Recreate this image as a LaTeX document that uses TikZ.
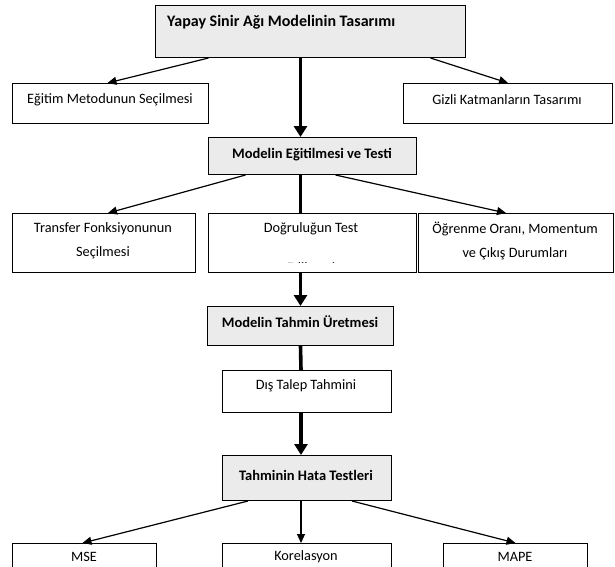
\documentclass[tikz,border=0pt]{standalone}
\usepackage{fontspec}
\setmainfont{Carlito}
\usetikzlibrary{arrows.meta}
\begin{document}
\begin{tikzpicture}[x=1pt,y=-1pt,
  box/.style={draw=black, line width=1pt, fill=white, inner sep=0pt, anchor=north west},
  gbox/.style={box, fill=gray!16},
  txt/.style={inner sep=0pt, align=center, font=\fontsize{14.3}{24}\selectfont},
  btxt/.style={inner sep=0pt, align=center, font=\fontsize{14.5}{17}\selectfont\bfseries},
  thinarrow/.style={line width=1.2pt, -{Triangle[length=9pt,width=8pt]}},
  thickarrow/.style={line width=3.6pt, -{Triangle[length=11pt,width=13pt]}},
  thickline/.style={line width=3.6pt}]
\useasboundingbox (0,0) rectangle (615,566);
\clip (0,0) rectangle (615,566);
% boxes
\node[gbox, minimum width=310pt, minimum height=52pt] (top) at (155,5) {};
\node[box, minimum width=196pt, minimum height=40pt] (egitim) at (12,83) {};
\node[box, minimum width=209pt, minimum height=40pt] (gizli) at (403,83) {};
\node[gbox, minimum width=208pt, minimum height=37pt] (me) at (208,137) {};
\node[box, minimum width=183pt, minimum height=59pt] (transfer) at (12,213) {};
\node[box, minimum width=208pt, minimum height=59pt] (dogru) at (208,213) {};
\node[box, minimum width=195pt, minimum height=59pt] (ogren) at (418,213) {};
\node[gbox, minimum width=186pt, minimum height=39pt] (mtu) at (207,306) {};
\node[box, minimum width=169pt, minimum height=42pt] (dis) at (222,370) {};
\node[gbox, minimum width=169pt, minimum height=45pt] (tah) at (222,455) {};
\node[box, minimum width=144pt, minimum height=40pt] (mse) at (12,543) {};
\node[box, minimum width=169pt, minimum height=40pt] (kor) at (222,543) {};
\node[box, minimum width=144pt, minimum height=40pt] (mape) at (443,543) {};
% texts
\node[btxt, anchor=west, font=\fontsize{16}{19}\selectfont\bfseries] (topl) at (167,22) {Yapay Sinir Ağı Modelinin Tasarımı};
\node[txt] (egitiml) at (110,100) {Eğitim Metodunun Seçilmesi};
\node[txt] (gizlil) at (507,100) {Gizli Katmanların Tasarımı};
\node[btxt] (mel) at (312,155) {Modelin Eğitilmesi ve Testi};
\node[txt] (transferl) at (103,241) {Transfer Fonksiyonunun\\Seçilmesi};
\node[txt] (dogrul) at (311,229) {Doğruluğun Test};
\begin{scope}
\clip (208,213) rectangle (416,262);
\node[txt, anchor=base] (dogrul2) at (311,272) {Edilmesi};
\end{scope}
\node[txt] (ogrenl) at (515,241) {Öğrenme Oranı, Momentum\\ve Çıkış Durumları};
\node[btxt] (mtul) at (300,322) {Modelin Tahmin Üretmesi};
\node[txt] (disl) at (306,386) {Dış Talep Tahmini};
\node[btxt] (tahl) at (306,475) {Tahminin Hata Testleri};
\node[txt] (msel) at (84,557) {MSE};
\node[txt] (korl) at (306,557) {Korelasyon};
\node[txt] (mapel) at (515,557) {MAPE};
% connectors
\draw[thinarrow] ([xshift=-102pt]top.south) -- ([xshift=-3pt]egitim.north);
\draw[thinarrow] ([xshift=120pt]top.south) -- (gizli.north);
\draw[thickarrow] ([xshift=-10pt]top.south) -- ([xshift=-12pt]me.north);
\draw[thinarrow] ([xshift=-67pt]me.south) -- ([xshift=4pt]transfer.north);
\draw[thinarrow] ([xshift=23pt]me.south) -- ([xshift=-10pt]ogren.north);
\draw[thickline] ([xshift=-12pt]me.south) -- ([xshift=-12pt]dogru.north);
\draw[thickarrow] ([xshift=-12pt]dogru.south) -- (mtu.north);
\draw[thickline] (mtu.south) -- ([xshift=-6pt]dis.north);
\draw[thickarrow] ([xshift=-6pt]dis.south) -- ([xshift=-6pt]tah.north);
\draw[thinarrow] ([xshift=-59pt]tah.south) -- ([xshift=-2pt]mse.north);
\draw[thinarrow] ([xshift=-6pt]tah.south) -- ([xshift=-6pt]kor.north);
\draw[thinarrow] ([xshift=45pt]tah.south) -- (mape.north);
\end{tikzpicture}
\end{document}
